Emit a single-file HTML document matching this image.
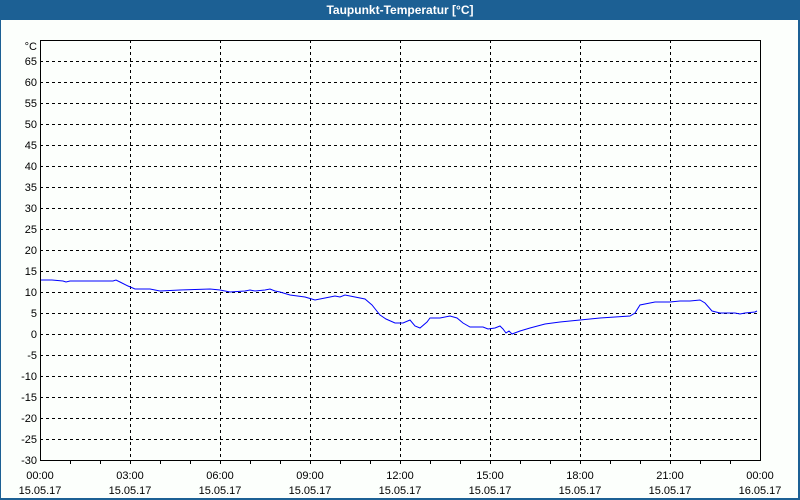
<!DOCTYPE html>
<html><head><meta charset="utf-8"><style>
html,body{margin:0;padding:0;width:800px;height:500px;overflow:hidden;background:#1c6094}
</style></head><body>
<svg width="800" height="500" xmlns="http://www.w3.org/2000/svg" font-family="Liberation Sans, DejaVu Sans, sans-serif" font-size="11">
<rect x="0" y="0" width="800" height="500" fill="#1c6094"/>
<rect x="1" y="20" width="797" height="478" fill="#fcfffc"/>
<text x="400" y="14" text-anchor="middle" fill="#fff" font-weight="bold" font-size="12">Taupunkt-Temperatur [°C]</text>
<g stroke="#000" stroke-width="1" stroke-dasharray="3,3" shape-rendering="crispEdges">
<line x1="40" x2="760" y1="61.5" y2="61.5"/><line x1="40" x2="760" y1="82.5" y2="82.5"/><line x1="40" x2="760" y1="103.5" y2="103.5"/><line x1="40" x2="760" y1="124.5" y2="124.5"/><line x1="40" x2="760" y1="145.5" y2="145.5"/><line x1="40" x2="760" y1="166.5" y2="166.5"/><line x1="40" x2="760" y1="187.5" y2="187.5"/><line x1="40" x2="760" y1="208.5" y2="208.5"/><line x1="40" x2="760" y1="229.5" y2="229.5"/><line x1="40" x2="760" y1="250.5" y2="250.5"/><line x1="40" x2="760" y1="271.5" y2="271.5"/><line x1="40" x2="760" y1="292.5" y2="292.5"/><line x1="40" x2="760" y1="313.5" y2="313.5"/><line x1="40" x2="760" y1="334.5" y2="334.5"/><line x1="40" x2="760" y1="355.5" y2="355.5"/><line x1="40" x2="760" y1="376.5" y2="376.5"/><line x1="40" x2="760" y1="397.5" y2="397.5"/><line x1="40" x2="760" y1="418.5" y2="418.5"/><line x1="40" x2="760" y1="439.5" y2="439.5"/>
<line x1="130.5" x2="130.5" y1="40" y2="460"/><line x1="220.5" x2="220.5" y1="40" y2="460"/><line x1="310.5" x2="310.5" y1="40" y2="460"/><line x1="400.5" x2="400.5" y1="40" y2="460"/><line x1="490.5" x2="490.5" y1="40" y2="460"/><line x1="580.5" x2="580.5" y1="40" y2="460"/><line x1="670.5" x2="670.5" y1="40" y2="460"/>
</g>
<rect x="40.5" y="40.5" width="720" height="420" fill="none" stroke="#000" stroke-width="1" shape-rendering="crispEdges"/>
<g stroke="#000" shape-rendering="crispEdges">
<line x1="70.5" x2="70.5" y1="460" y2="464"/><line x1="100.5" x2="100.5" y1="460" y2="464"/><line x1="130.5" x2="130.5" y1="460" y2="464"/><line x1="160.5" x2="160.5" y1="460" y2="464"/><line x1="190.5" x2="190.5" y1="460" y2="464"/><line x1="220.5" x2="220.5" y1="460" y2="464"/><line x1="250.5" x2="250.5" y1="460" y2="464"/><line x1="280.5" x2="280.5" y1="460" y2="464"/><line x1="310.5" x2="310.5" y1="460" y2="464"/><line x1="340.5" x2="340.5" y1="460" y2="464"/><line x1="370.5" x2="370.5" y1="460" y2="464"/><line x1="400.5" x2="400.5" y1="460" y2="464"/><line x1="430.5" x2="430.5" y1="460" y2="464"/><line x1="460.5" x2="460.5" y1="460" y2="464"/><line x1="490.5" x2="490.5" y1="460" y2="464"/><line x1="520.5" x2="520.5" y1="460" y2="464"/><line x1="550.5" x2="550.5" y1="460" y2="464"/><line x1="580.5" x2="580.5" y1="460" y2="464"/><line x1="610.5" x2="610.5" y1="460" y2="464"/><line x1="640.5" x2="640.5" y1="460" y2="464"/><line x1="670.5" x2="670.5" y1="460" y2="464"/><line x1="700.5" x2="700.5" y1="460" y2="464"/><line x1="730.5" x2="730.5" y1="460" y2="464"/>
</g>
<g text-anchor="end" fill="#000">
<text x="37" y="50">°C</text>
<text x="37" y="65">65</text><text x="37" y="86">60</text><text x="37" y="107">55</text><text x="37" y="128">50</text><text x="37" y="149">45</text><text x="37" y="170">40</text><text x="37" y="191">35</text><text x="37" y="212">30</text><text x="37" y="233">25</text><text x="37" y="254">20</text><text x="37" y="275">15</text><text x="37" y="296">10</text><text x="37" y="317">5</text><text x="37" y="338">0</text><text x="37" y="359">-5</text><text x="37" y="380">-10</text><text x="37" y="401">-15</text><text x="37" y="422">-20</text><text x="37" y="443">-25</text><text x="37" y="464">-30</text>
</g>
<g text-anchor="middle" fill="#000">
<text x="40" y="479">00:00</text><text x="40" y="494">15.05.17</text>
<text x="130" y="479">03:00</text><text x="130" y="494">15.05.17</text>
<text x="220" y="479">06:00</text><text x="220" y="494">15.05.17</text>
<text x="310" y="479">09:00</text><text x="310" y="494">15.05.17</text>
<text x="400" y="479">12:00</text><text x="400" y="494">15.05.17</text>
<text x="490" y="479">15:00</text><text x="490" y="494">15.05.17</text>
<text x="580" y="479">18:00</text><text x="580" y="494">15.05.17</text>
<text x="670" y="479">21:00</text><text x="670" y="494">15.05.17</text>
<text x="760" y="479">00:00</text><text x="760" y="494">16.05.17</text>
</g>
<polyline fill="none" stroke="#0000ff" stroke-width="1" points="41,280 52,280 63,281 66,282 70,281 113,281 116,280 120,282 128,286 135,289 150,289 160,291 180,290 210,289 220,290 230,292 245,291 250,290 255,291 265,290 270,289 275,291 280,292 290,295 305,297 315,300 325,298 335,296 340,297 345,295 355,297 365,299 372,305 380,315 386,319 395,323 403,323 410,320 415,326 420,328 427,322 430,318 440,318 450,316 457,318 463,323 470,327 480,327 483,327 488,329 495,328 500,326 503,329 506,333 509,331 512,334 520,331 530,328 545,324 560,322 580,320 600,318 630,316 635,313 640,305 650,303 655,302 670,302 680,301 690,301 700,300 705,303 712,311 720,313 735,313 740,314 745,313 755,312 757,311"/>
</svg>
</body></html>
